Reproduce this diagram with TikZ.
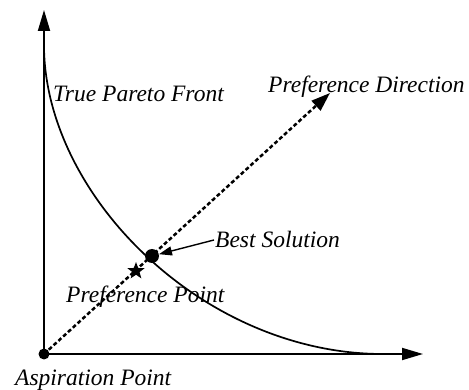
\documentclass[tikz,border=0pt]{standalone}
\usepackage{fontspec}
\setmainfont{Liberation Serif}
\usetikzlibrary{arrows.meta,shapes.geometric}
\begin{document}
\begin{tikzpicture}[x=1pt,y=-1pt,
  axis/.style={line width=1.8pt,-{Triangle[length=21pt,width=12pt]}},
  front/.style={line width=1.7pt},
  prefdir/.style={line width=2.5pt,dash pattern=on 4pt off 2.5pt,-{Triangle[length=19pt,width=13pt]}},
  pointer/.style={line width=1.4pt,-{Triangle[length=13pt,width=9pt]}},
  label/.style={anchor=base west,inner sep=0pt,font=\fontsize{23.5}{25}\selectfont\itshape},
  dot/.style={circle,fill=black,inner sep=0pt,minimum size=#1}]
\useasboundingbox (0,0) rectangle (469,390);
% axes
\coordinate (O) at (44,354);
\coordinate (Ytip) at (44,10);
\coordinate (Xtip) at (423,354);
\draw[axis] (O) -- (Ytip);
\draw[axis] (O) -- (Xtip);
% pareto front
\coordinate (F0) at (44,45);
\coordinate (F1) at (383,354);
\draw[front] (F0) .. controls (44,195) and (203,354) .. (F1);
% preference direction
\coordinate (D) at (330,93);
\draw[prefdir] (O) -- (D);
% points
\node[dot=11pt] (asp) at (O) {};
\node[dot=14pt] (best) at (152,256) {};
\node[star,star points=5,star point ratio=2.4,fill=black,inner sep=0pt,minimum size=18pt] (pp) at (136,271) {};
% labels
\node[label] (tpf) at (53,102) {True Pareto Front};
\node[label] (pd) at (268,93) {Preference Direction};
\node[label] (bs) at (215,248) {Best Solution};
\node[label] (ppl) at (66,303) {Preference Point};
\node[label] (apl) at (15,385) {Aspiration Point};
\draw[pointer] ([xshift=-1pt]bs.west) -- (best);
\end{tikzpicture}
\end{document}
